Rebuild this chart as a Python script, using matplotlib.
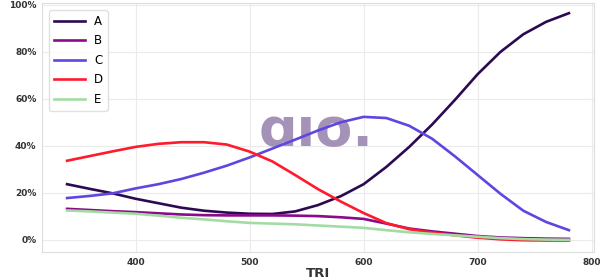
import numpy as np
import matplotlib
matplotlib.use("Agg")
import matplotlib.pyplot as plt
from matplotlib.ticker import PercentFormatter

# TRI values and shares (in %)
tri = [340, 360, 380, 400, 420, 440, 460, 480, 500, 520, 540, 560,
       580, 600, 620, 640, 660, 680, 700, 720, 740, 760, 780]

share_a = [23.6, 21.6, 19.7, 17.4, 15.5, 13.6, 12.3, 11.5, 11.0, 10.9, 12.0, 14.7,
           18.5, 23.6, 31.0, 39.5, 49.0, 59.5, 70.5, 80.0, 87.5, 92.8, 96.5]
share_b = [13.1, 12.6, 12.1, 11.7, 11.2, 10.7, 10.4, 10.3, 10.3, 10.3, 10.2, 10.0,
           9.5, 8.8, 6.8, 4.7, 3.5, 2.5, 1.5, 0.9, 0.6, 0.4, 0.3]
share_c = [17.7, 18.6, 19.7, 21.8, 23.6, 25.8, 28.5, 31.5, 35.0, 38.8, 42.6, 46.5,
           50.0, 52.3, 51.8, 48.5, 43.0, 35.5, 27.5, 19.5, 12.3, 7.5, 4.0]
share_d = [33.6, 35.6, 37.6, 39.5, 40.8, 41.5, 41.5, 40.5, 37.5, 33.3, 27.5, 21.5,
           16.2, 11.3, 7.0, 4.4, 3.0, 1.8, 0.8, 0.1, -0.3, -0.4, -0.4]
share_e = [12.4, 12.0, 11.5, 11.0, 10.2, 9.3, 8.6, 7.8, 7.1, 6.8, 6.5, 6.0,
           5.5, 5.0, 4.0, 3.1, 2.4, 1.8, 1.2, 0.6, 0.2, 0.0, -0.1]

labels = ["A", "B", "C", "D", "E"]
colors = ["#2c0a52", "#8b0a8b", "#5f46e0", "#ff1a2e", "#a3dca3"]
series = [share_a, share_b, share_c, share_d, share_e]

fig = plt.figure(figsize=(6, 2.8), dpi=100)
ax = fig.add_axes([0.07, 0.1, 0.92, 0.889])

# watermark
ax.text(0.497, 0.485, "ɑıo.", transform=ax.transAxes, ha="center", va="center",
        fontsize=39, fontweight="bold", color="#a592b9", zorder=1)

for vals, lab, col in zip(series, labels, colors):
    ax.plot(tri, np.array(vals) / 100, color=col, lw=1.9, label=lab, zorder=3)

ax.yaxis.set_major_formatter(PercentFormatter(1.0, decimals=0))
ax.set_xticks([400, 500, 600, 700, 800])
ax.set_yticks([0, 0.2, 0.4, 0.6, 0.8, 1.0])
ax.set_ylim(-0.053, 1.008)
ax.grid(True, color="#ebebeb", lw=0.8, zorder=0)
ax.set_axisbelow(True)
for s in ax.spines.values():
    s.set_color("#dddddd")
ax.tick_params(length=0, labelsize=6.5, colors="#333333", pad=4)
for t in ax.get_xticklabels() + ax.get_yticklabels():
    t.set_fontweight("bold")
ax.set_xlabel("TRI", fontsize=9.5, fontweight="bold", color="#333333", labelpad=0)

ax.legend(loc="upper left", fontsize=8.5, handlelength=2.6, labelspacing=0.55,
          borderaxespad=0.6, edgecolor="#dddddd", framealpha=0.9)

fig.savefig("out.png", dpi=100)
